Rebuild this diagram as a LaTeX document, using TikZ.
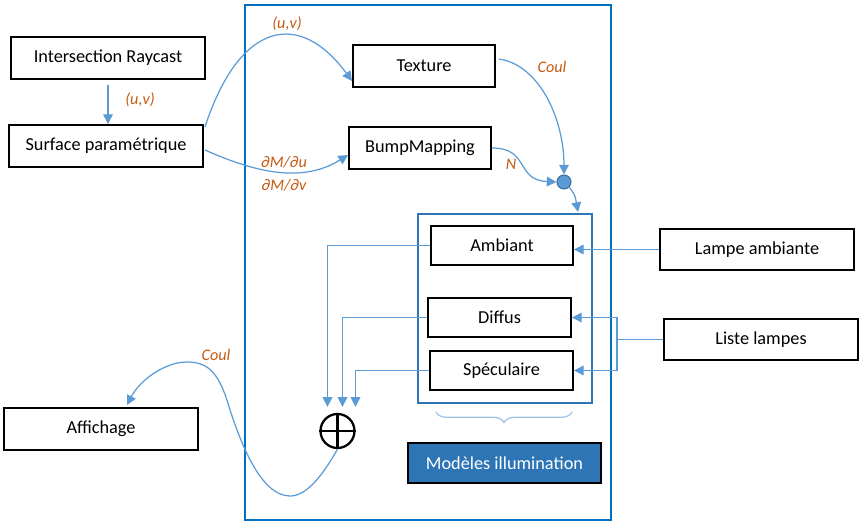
\documentclass[tikz,border=0pt]{standalone}
\usepackage{fontspec}
\setmainfont{Carlito}
\usepackage{tikz}
\usetikzlibrary{positioning, arrows.meta, calc, decorations.pathreplacing}

\definecolor{linkblue}{HTML}{5B9BD5}
\definecolor{frameblue}{HTML}{0070C0}
\definecolor{modelblue}{HTML}{2E75B6}
\definecolor{labelorange}{HTML}{C55A11}
\definecolor{braceblue}{HTML}{9DC3E6}

\begin{document}
\begin{tikzpicture}[x=0.02cm, y=-0.02cm,
    box/.style={rectangle, draw, line width=1.1pt, minimum width=3.88cm, minimum height=0.84cm, inner sep=0pt, font=\fontsize{10.4}{12}\selectfont},
    smallbox/.style={box, minimum width=2.84cm},
    conn/.style={line width=0.7pt, color=linkblue, -{Triangle[length=5.5pt, width=5.5pt]}},
    lbl/.style={text=labelorange, font=\fontsize{9.2}{11}\selectfont\itshape, inner sep=1pt}]
    \useasboundingbox (0,0) rectangle (866,530);

    % Frames
    \node[draw=frameblue, line width=1.1pt, minimum width=7.32cm, minimum height=10.3cm, inner sep=0pt] (frame) at (428,262.5) {};
    \node[draw=modelblue, line width=1.1pt, minimum width=3.48cm, minimum height=3.78cm, inner sep=0pt] (models) at (505,308.5) {};

    % Left column
    \node[box] (inter) at (108,58) {Intersection Raycast};
    \node[box] (surf) at (106,146) {Surface paramétrique};
    \node[box] (aff) at (101,429) {Affichage};

    % Texture and bump mapping
    \node[smallbox] (tex) at (424,66) {Texture};
    \node[smallbox] (bump) at (420,148) {BumpMapping};

    % Lighting models
    \node[smallbox, minimum height=0.78cm] (amb) at (502,245.5) {Ambiant};
    \node[smallbox, minimum width=2.86cm, minimum height=0.78cm] (diff) at (499.5,317.5) {Diffus};
    \node[smallbox, minimum width=2.86cm, minimum height=0.78cm] (spec) at (501.5,370.5) {Spéculaire};
    \node[box, fill=modelblue, text=white, minimum width=3.86cm, minimum height=0.8cm] (title) at (504.5,463) {Modèles illumination};

    % Lamps
    \node[box, minimum height=0.82cm] (lamp) at (757,249.5) {Lampe ambiante};
    \node[box, minimum height=0.82cm] (liste) at (761,339.5) {Liste lampes};

    % Mixing point and sum
    \node[circle, fill=linkblue, draw=linkblue!70!black, line width=0.6pt, minimum size=0.28cm, inner sep=0pt] (mix) at (564,182) {};
    \node[circle, draw, line width=1.3pt, minimum size=0.68cm, inner sep=0pt] (sum) at (337.5,431) {};
    \draw[line width=1.3pt] (sum.north) -- (sum.south) (sum.west) -- (sum.east);

    % Labels
    \node[lbl] (uvin) at (140,100) {(u,v)};
    \node[lbl] (uvtex) at (287,24) {(u,v)};
    \node[lbl] (du) at (284,162) {∂M/∂u};
    \node[lbl] (dv) at (284,185) {∂M/∂v};
    \node[lbl] (coultex) at (552,67) {Coul};
    \node[lbl] (normal) at (511,164) {N};
    \node[lbl] (coulout) at (216,355) {Coul};

    % Arrows
    \draw[conn, shorten <=3pt] (inter.south) -- (inter.south |- surf.north);
    \draw[conn] ($(surf.north east)+(1,3)$) .. controls (240,20) and (300,10) .. ($(tex.south west)+(0,-7)$);
    \draw[conn] ($(surf.east)+(1,4)$) .. controls (250,170) and (300,185) .. ($(bump.west)+(0,7)$);
    \draw[conn] ($(tex.east)+(3,-7)$) .. controls (540,65) and (564,120) .. (mix.north);
    \draw[conn] (bump.east) .. controls (530,148) and (515,180) .. (mix.west);
    \draw[conn] (mix.south east) .. controls (575,195) .. (578,212);
    \draw[conn] (amb.west) -| ($(sum.north)+(-10,-6)$);
    \draw[conn] (diff.west) -| ($(sum.north)+(5,-6)$);
    \draw[conn] (spec.west) -| ($(sum.north)+(18,-6)$);
    \draw[conn] (lamp.west) -- (lamp.west -| amb.east);
    \draw[conn] (liste.west) -- ++(-46,0) coordinate (fork) |- (diff.east);
    \draw[conn] (fork) |- (spec.east);
    \draw[conn] (sum.south) .. controls (320,480) and (305,496) .. (290,496)
        .. controls (260,496) and (240,440) .. (230,410)
        .. controls (220,375) and (210,362) .. (187,362)
        .. controls (165,362) and (140,380) .. ($(aff.north)+(26,-2)$);

    % Brace under the models
    \draw[braceblue, line width=0.7pt, decorate, decoration={brace, amplitude=6pt}] (572,412) -- (436,412);
\end{tikzpicture}
\end{document}
